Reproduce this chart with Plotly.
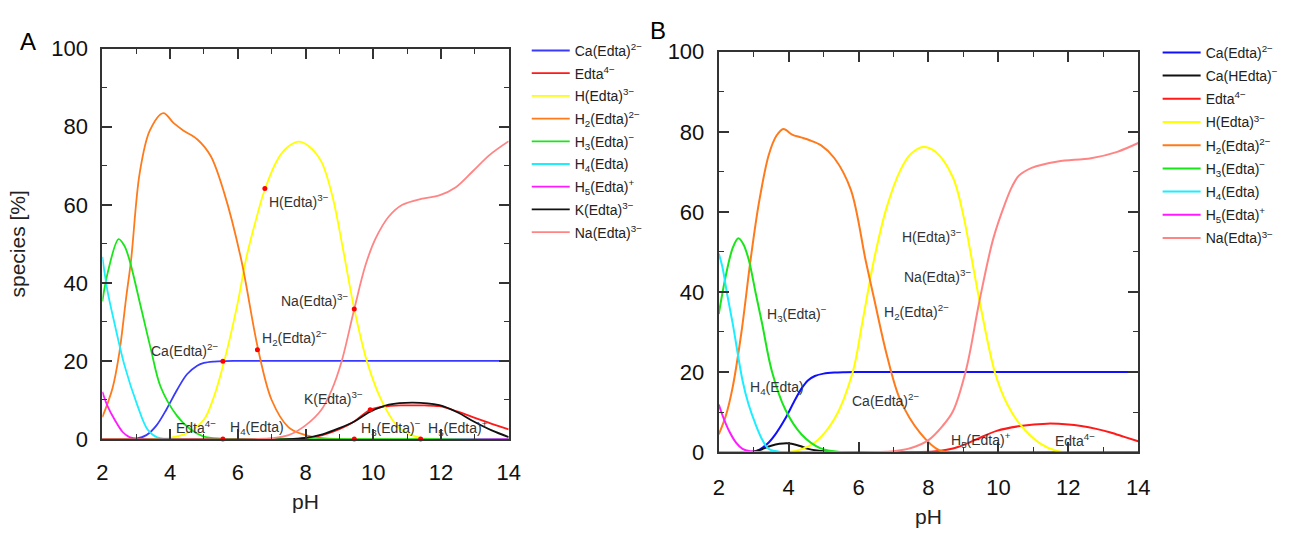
import plotly.graph_objects as go

# ---------------- Panel A data ----------------
A_ca_ph = [2.0, 2.5, 3.0, 3.3, 3.6, 3.9, 4.2, 4.5, 4.8, 5.0, 5.3, 5.6, 6.0, 14.0]
A_ca = [0.0, 0.0, 0.1, 1.0, 3.5, 7.7, 12.5, 16.6, 18.8, 19.5, 19.85, 19.97, 20.0, 20.0]

A_edta_ph = [2.0, 7.5, 8.0, 8.5, 9.0, 9.44, 9.91, 10.5, 10.95, 11.5, 11.95, 12.5, 12.94, 13.5, 14.0]
A_edta = [0.0, 0.0, 0.2, 1.0, 2.5, 4.5, 7.5, 8.5, 8.6, 8.6, 8.4, 7.0, 5.6, 3.9, 2.5]

A_h_ph = [2.0, 3.5, 4.0, 4.5, 5.0, 5.3, 5.6, 6.0, 6.24, 6.5, 6.8, 7.2, 7.5, 7.8, 8.1, 8.47, 8.8, 9.1,
          9.44, 9.82, 10.26, 10.76, 11.4, 12.0, 14.0]
A_h = [0.0, 0.0, 0.3, 1.5, 5.0, 11.0, 20.0, 35.0, 46.0, 55.0, 64.0, 72.0, 75.0, 76.2, 75.0, 71.0, 62.0, 49.0,
       33.3, 19.7, 9.6, 2.9, 0.3, 0.0, 0.0]

A_h2_ph = [2.0, 2.3, 2.5, 2.7, 2.85, 3.1, 3.4, 3.8, 4.1, 4.4, 4.8, 5.2, 5.6, 6.1, 6.6, 7.0, 7.5, 8.0, 8.5, 9.0, 14.0]
A_h2 = [5.6, 13.0, 22.0, 36.0, 46.0, 68.0, 79.0, 83.5, 81.0, 79.0, 76.8, 72.5, 63.0, 46.0, 23.0, 10.0, 3.0, 1.0,
        0.2, 0.0, 0.0]

A_h3_ph = [2.0, 2.16, 2.48, 2.65, 2.8, 3.14, 3.43, 3.72, 4.2, 4.6, 4.98, 5.5, 6.0, 14.0]
A_h3 = [35.3, 42.7, 51.2, 49.5, 45.9, 33.7, 23.1, 13.4, 6.0, 2.5, 0.7, 0.1, 0.0, 0.0]

A_h4_ph = [2.0, 2.15, 2.36, 2.65, 3.04, 3.33, 3.6, 4.0, 14.0]
A_h4 = [46.7, 38.0, 29.6, 19.0, 8.5, 2.5, 0.5, 0.0, 0.0]

A_h5_ph = [2.0, 2.15, 2.36, 2.6, 2.8, 3.1, 14.0]
A_h5 = [12.1, 8.5, 5.0, 1.8, 0.5, 0.0, 0.0]

A_k_ph = [2.0, 7.5, 8.0, 8.5, 9.0, 9.44, 9.91, 10.46, 11.16, 11.95, 12.5, 12.94, 13.5, 14.0]
A_k = [0.0, 0.0, 0.3, 1.2, 2.8, 4.5, 7.0, 8.8, 9.35, 8.7, 6.8, 4.6, 2.2, 0.5]

A_na_ph = [2.0, 6.5, 7.0, 7.5, 8.0, 8.47, 8.77, 9.07, 9.44, 9.77, 10.06, 10.46, 10.86, 11.45, 11.95,
           12.44, 12.94, 13.44, 14.0]
A_na = [0.0, 0.0, 0.2, 1.0, 3.5, 7.5, 12.5, 20.0, 33.3, 44.5, 51.2, 57.0, 60.0, 61.6, 62.4,
        64.5, 68.6, 72.8, 76.3]

A_dot_ph = [6.8, 9.44, 6.58, 5.56, 5.56, 9.91, 9.44, 11.4]
A_dot = [64.2, 33.3, 22.9, 19.9, 0.0, 7.5, 0.0, 0.0]

# ---------------- Panel B data ----------------
B_ca_ph = [2.0, 3.0, 3.2, 3.43, 3.65, 3.9, 4.15, 4.37, 4.55, 4.75, 5.0, 5.3, 5.6, 6.0, 14.0]
B_ca = [0.0, 0.0, 0.8, 2.4, 4.8, 8.3, 12.5, 15.9, 17.9, 19.0, 19.6, 19.88, 19.97, 20.0, 20.0]

B_cah_ph = [2.0, 2.9, 3.2, 3.5, 3.95, 4.3, 4.56, 5.0, 5.5, 14.0]
B_cah = [0.0, 0.0, 0.6, 1.6, 2.2, 1.6, 0.8, 0.2, 0.0, 0.0]

B_edta_ph = [2.0, 7.8, 8.3, 8.7, 9.0, 9.4, 9.95, 10.62, 11.39, 12.0, 12.37, 12.8, 13.21, 13.6, 14.0]
B_edta = [0.0, 0.0, 0.3, 0.9, 1.8, 3.3, 5.3, 6.5, 7.1, 6.9, 6.5, 5.8, 4.9, 3.8, 2.7]

B_h_ph = [2.0, 3.8, 4.2, 4.75, 5.31, 5.83, 6.1, 6.44, 6.8, 7.2, 7.5, 7.85, 8.2, 8.7, 9.0, 9.2, 9.46, 9.9,
          10.25, 10.62, 11.2, 11.7, 12.0, 14.0]
B_h = [0.0, 0.0, 0.3, 2.4, 8.3, 19.9, 32.0, 48.0, 61.0, 70.5, 74.5, 76.2, 75.0, 68.6, 59.0, 50.0, 37.8, 19.9,
       12.0, 6.9, 2.1, 0.2, 0.0, 0.0]

B_h2_ph = [2.0, 2.2, 2.4, 2.65, 2.91, 3.15, 3.43, 3.65, 3.85, 4.1, 4.35, 4.6, 4.93, 5.31, 5.78, 6.2, 6.44,
           6.81, 7.19, 7.76, 8.32, 8.8, 14.0]
B_h2 = [4.4, 9.0, 16.3, 30.0, 48.0, 62.3, 74.2, 79.0, 80.7, 79.3, 78.6, 77.9, 76.6, 73.4, 65.5, 48.0, 38.5,
        24.2, 13.1, 4.8, 0.4, 0.0, 0.0]

B_h3_ph = [2.0, 2.2, 2.4, 2.56, 2.7, 2.86, 3.05, 3.24, 3.52, 3.9, 4.37, 4.9, 5.5, 14.0]
B_h3 = [34.5, 44.0, 51.0, 53.4, 52.0, 48.0, 40.0, 32.1, 20.2, 10.7, 4.4, 1.0, 0.0, 0.0]

B_h4_ph = [2.0, 2.1, 2.25, 2.4, 2.68, 2.85, 3.06, 3.25, 3.43, 3.8, 14.0]
B_h4 = [49.6, 46.4, 39.0, 32.1, 17.9, 12.0, 6.8, 3.0, 0.8, 0.0, 0.0]

B_h5_ph = [2.0, 2.15, 2.3, 2.5, 2.68, 2.9, 3.2, 14.0]
B_h5 = [11.9, 8.2, 5.2, 2.3, 0.8, 0.2, 0.0, 0.0]

B_na_ph = [2.0, 6.5, 7.0, 7.5, 8.0, 8.4, 8.7, 9.08, 9.46, 9.85, 10.2, 10.39, 10.58, 10.95, 11.7, 12.65,
           13.4, 14.0]
B_na = [0.0, 0.0, 0.2, 1.0, 3.0, 6.5, 10.2, 20.7, 37.8, 53.2, 62.3, 66.3, 69.0, 71.0, 72.6, 73.4,
        75.0, 77.2]

# ---------------- labels ----------------
A_names = ["Ca(Edta)<sup>2−</sup>", "Edta<sup>4−</sup>", "H(Edta)<sup>3−</sup>", "H<sub>2</sub>(Edta)<sup>2−</sup>",
           "H<sub>3</sub>(Edta)<sup>−</sup>", "H<sub>4</sub>(Edta)", "H<sub>5</sub>(Edta)<sup>+</sup>",
           "K(Edta)<sup>3−</sup>", "Na(Edta)<sup>3−</sup>"]
B_names = ["Ca(Edta)<sup>2−</sup>", "Ca(HEdta)<sup>−</sup>", "Edta<sup>4−</sup>", "H(Edta)<sup>3−</sup>",
           "H<sub>2</sub>(Edta)<sup>2−</sup>", "H<sub>3</sub>(Edta)<sup>−</sup>", "H<sub>4</sub>(Edta)",
           "H<sub>5</sub>(Edta)<sup>+</sup>", "Na(Edta)<sup>3−</sup>"]

A_lab_text = ["H(Edta)<sup>3−</sup>", "Na(Edta)<sup>3−</sup>", "H<sub>2</sub>(Edta)<sup>2−</sup>",
              "Ca(Edta)<sup>2−</sup>", "K(Edta)<sup>3−</sup>", "Edta<sup>4−</sup>", "H<sub>4</sub>(Edta)",
              "H<sub>3</sub>(Edta)<sup>−</sup>", "H<sub>5</sub>(Edta)<sup>+</sup>"]
A_lab_x = [6.87, 7.22, 6.67, 3.38, 7.89, 4.11, 5.71, 9.57, 11.55]
A_lab_y = [61.0, 35.7, 26.0, 22.7, 10.6, 3.2, 2.8, 2.9, 2.9]

B_lab_text = ["H(Edta)<sup>3−</sup>", "Na(Edta)<sup>3−</sup>", "H<sub>3</sub>(Edta)<sup>−</sup>",
              "H<sub>2</sub>(Edta)<sup>2−</sup>", "H<sub>4</sub>(Edta)", "Ca(Edta)<sup>2−</sup>",
              "H<sub>5</sub>(Edta)<sup>+</sup>", "Edta<sup>4−</sup>"]
B_lab_x = [7.19, 7.23, 3.33, 6.66, 2.85, 5.76, 8.58, 11.57]
B_lab_y = [54.0, 44.0, 34.5, 34.9, 15.9, 13.1, 2.9, 2.9]

# ---------------- styling ----------------
FONT = "Liberation Sans, Arial, Helvetica, sans-serif"
C_BLUE_A, C_BLUE_B = "#3a3aff", "#1010ff"
C_RED = "#ff1a1a"
C_YEL = "#ffff00"
C_ORA = "#ff7a1a"
C_GRN = "#19e619"
C_CYA = "#1aeeff"
C_MAG = "#ff1aff"
C_BLK = "#111111"
C_NA = "#ff8585"
SMOOTH = 0.95

fig = go.Figure()

A_series = [(A_ca_ph, A_ca, C_BLUE_A), (A_edta_ph, A_edta, C_RED), (A_h_ph, A_h, C_YEL),
            (A_h2_ph, A_h2, C_ORA), (A_h3_ph, A_h3, C_GRN), (A_h4_ph, A_h4, C_CYA),
            (A_h5_ph, A_h5, C_MAG), (A_k_ph, A_k, C_BLK), (A_na_ph, A_na, C_NA)]
for i, ((xs, ys, col), nm) in enumerate(zip(A_series, A_names)):
    fig.add_trace(go.Scatter(x=xs, y=ys, mode="lines", name=nm, xaxis="x", yaxis="y",
                             line=dict(color=col, width=1.8, shape="spline", smoothing=SMOOTH),
                             legend="legend", legendgroup="a%d" % i))
fig.add_trace(go.Scatter(x=A_dot_ph, y=A_dot, mode="markers", xaxis="x", yaxis="y", showlegend=False,
                         marker=dict(color="#ff0000", size=5), cliponaxis=False))

B_series = [(B_ca_ph, B_ca, C_BLUE_B), (B_cah_ph, B_cah, C_BLK), (B_edta_ph, B_edta, C_RED),
            (B_h_ph, B_h, C_YEL), (B_h2_ph, B_h2, C_ORA), (B_h3_ph, B_h3, C_GRN),
            (B_h4_ph, B_h4, C_CYA), (B_h5_ph, B_h5, C_MAG), (B_na_ph, B_na, C_NA)]
for i, ((xs, ys, col), nm) in enumerate(zip(B_series, B_names)):
    fig.add_trace(go.Scatter(x=xs, y=ys, mode="lines", name=nm, xaxis="x2", yaxis="y2",
                             line=dict(color=col, width=2, shape="spline", smoothing=SMOOTH),
                             legend="legend2", legendgroup="b%d" % i))

ann = []
for t, x, y in zip(A_lab_text, A_lab_x, A_lab_y):
    ann.append(dict(text=t, x=x, y=y, xref="x", yref="y", xanchor="left", yanchor="middle",
                    showarrow=False, font=dict(family=FONT, size=14, color="#333333")))
for t, x, y in zip(B_lab_text, B_lab_x, B_lab_y):
    ann.append(dict(text=t, x=x, y=y, xref="x2", yref="y2", xanchor="left", yanchor="middle",
                    showarrow=False, font=dict(family=FONT, size=14, color="#333333")))
ann.append(dict(text="A", x=22 / 1308, y=1 - 31 / 534, xref="paper", yref="paper", xanchor="center",
                yanchor="middle", showarrow=False, font=dict(family=FONT, size=24, color="#000")))
ann.append(dict(text="B", x=661 / 1308, y=1 - 19 / 534, xref="paper", yref="paper", xanchor="center",
                yanchor="middle", showarrow=False, font=dict(family=FONT, size=24, color="#000")))


def xax(domain, anchor, lblstand):
    return dict(domain=domain, anchor=anchor, range=[2, 14], tick0=2, dtick=2, ticks="inside",
                ticklen=10, tickwidth=1.5, tickcolor="#333", showline=True, linewidth=2,
                linecolor="#333", mirror="allticks", showgrid=False, zeroline=False,
                minor=dict(dtick=1, ticks="inside", ticklen=5, tickwidth=1.2, tickcolor="#333", showgrid=False),
                tickfont=dict(family=FONT, size=22, color="#111"), ticklabelstandoff=lblstand,
                title=dict(text="pH", font=dict(family=FONT, size=21, color="#222"), standoff=10))


def yax(domain, anchor, title):
    d = dict(domain=domain, anchor=anchor, range=[0, 100], tick0=0, dtick=20, ticks="inside",
             ticklen=10, tickwidth=1.5, tickcolor="#333", showline=True, linewidth=2,
             linecolor="#333", mirror="allticks", showgrid=False, zeroline=False,
             minor=dict(dtick=10, ticks="inside", ticklen=5, tickwidth=1.2, tickcolor="#333", showgrid=False),
             tickfont=dict(family=FONT, size=22, color="#111"), ticklabelstandoff=8)
    if title:
        d["title"] = dict(text=title, font=dict(family=FONT, size=21, color="#222"), standoff=20)
    return d


legfont = dict(family=FONT, size=14, color="#222")
fig.update_layout(
    width=1308, height=534, margin=dict(l=0, r=0, t=0, b=0),
    paper_bgcolor="white", plot_bgcolor="white",
    xaxis=xax([97.7 / 1308, 509.7 / 1308], "y", 13),
    yaxis=yax([1 - 448 / 534, 1 - 38.5 / 534], "x", "species [%]"),
    xaxis2=xax([722.7 / 1308, 1148 / 1308], "y2", 15),
    yaxis2=yax([1 - 461.7 / 534, 1 - 41.7 / 534], "x2", None),
    legend=dict(x=528 / 1308, y=1 - 24 / 534, xanchor="left", yanchor="top", font=legfont,
                tracegroupgap=1.5, itemwidth=38, bgcolor="rgba(0,0,0,0)", borderwidth=0),
    legend2=dict(x=1167.7 / 1308, y=1 - 26 / 534, xanchor="left", yanchor="top", font=legfont,
                 tracegroupgap=2, itemwidth=38, bgcolor="rgba(0,0,0,0)", borderwidth=0),
    annotations=ann,
    showlegend=True,
)

fig.write_html("out.html")
